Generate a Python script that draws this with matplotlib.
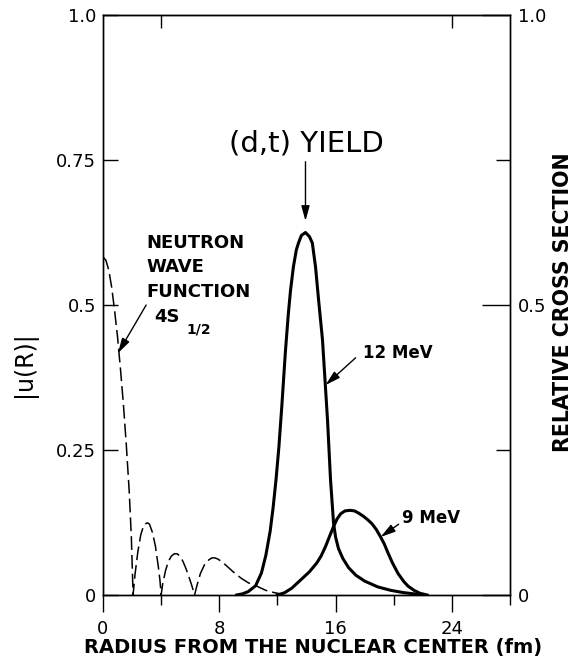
import numpy as np
import matplotlib
matplotlib.use("Agg")
import matplotlib.pyplot as plt
from matplotlib.ticker import FixedLocator, NullFormatter

# neutron wave function |u(R)| (dashed), radius in fm
wave_r = [0, 0.2, 0.4, 0.6, 0.8, 1.0, 1.2, 1.4, 1.6, 1.8, 1.95, 2.07,
          2.2, 2.4, 2.6, 2.8, 3.0, 3.1, 3.2, 3.4, 3.6, 3.8, 3.92, 4.0,
          4.1, 4.3, 4.5, 4.7, 4.9, 5.1, 5.3, 5.5, 5.7, 5.9, 6.1, 6.3,
          6.45, 6.7, 7.0, 7.3, 7.5, 7.7, 7.9, 8.2, 8.6, 9.0, 9.5, 10.0, 10.6, 11.2, 11.8, 12.4]
wave_u = [0.583, 0.577, 0.56, 0.53, 0.49, 0.445, 0.39, 0.33, 0.26, 0.18, 0.1, 0.0,
          0.035, 0.075, 0.104, 0.12, 0.124, 0.124, 0.122, 0.108, 0.085, 0.05, 0.025, 0.0,
          0.018, 0.042, 0.058, 0.067, 0.071, 0.071, 0.067, 0.058, 0.046, 0.032, 0.017, 0.0,
          0.015, 0.037, 0.053, 0.061, 0.064, 0.064, 0.062, 0.057, 0.048, 0.039, 0.029, 0.021, 0.015, 0.008, 0.004, 0.001]

# (d,t) yield at 12 MeV
r12 = [9.2, 9.6, 10.0, 10.5, 10.9, 11.2, 11.5, 11.7, 11.9, 12.1, 12.3, 12.55, 12.75,
       12.9, 13.1, 13.3, 13.45, 13.65, 13.93, 14.2, 14.4, 14.62, 14.83, 15.1, 15.3,
       15.45, 15.65, 15.86, 16.0, 16.2, 16.5, 16.9, 17.4, 18.0, 18.9, 19.8, 20.7, 21.4, 22.1]
y12 = [0.0, 0.002, 0.006, 0.016, 0.038, 0.068, 0.11, 0.15, 0.198, 0.255, 0.325, 0.42, 0.485,
       0.525, 0.566, 0.595, 0.607, 0.62, 0.625, 0.618, 0.607, 0.566, 0.509, 0.44, 0.36,
       0.30, 0.20, 0.124, 0.1, 0.08, 0.063, 0.047, 0.034, 0.024, 0.014, 0.008, 0.004, 0.002, 0.0]

# (d,t) yield at 9 MeV
r9 = [12.0, 12.5, 13.0, 13.6, 14.2, 14.7, 15.0, 15.3, 15.6, 15.86, 16.1, 16.35, 16.65,
      17.0, 17.3, 17.6, 17.9, 18.2, 18.5, 18.8, 19.1, 19.35, 19.6, 19.9, 20.3, 20.7,
      21.0, 21.4, 21.8, 22.3]
y9 = [0.0, 0.004, 0.012, 0.026, 0.04, 0.055, 0.067, 0.083, 0.102, 0.118, 0.131, 0.14, 0.145,
      0.146, 0.145, 0.141, 0.136, 0.13, 0.123, 0.113, 0.1, 0.088, 0.073, 0.056, 0.037, 0.023,
      0.015, 0.008, 0.003, 0.0]

xticks = [0, 8, 16, 24]
left_ticks = [0, 0.25, 0.5, 0.75, 1.0]
left_labels = ["0", "0.25", "0.5", "0.75", "1.0"]
right_ticks = [0, 0.5, 1.0]
right_labels = ["0", "0.5", "1.0"]

W, H = 575, 661
fig = plt.figure(figsize=(W / 100, H / 100), dpi=100)
ax = fig.add_axes([103 / W, 1 - 595 / H, (510 - 103) / W, (595 - 15) / H])
ax.set_xlim(0, 28)
ax.set_ylim(0, 1.0)
for s in ax.spines.values():
    s.set_linewidth(1.0)

ax.plot(wave_r, wave_u, color="k", lw=1.1, ls=(0, (9, 3.3)))
ax.plot(r12, y12, color="k", lw=2.2, solid_joinstyle="round")
ax.plot(r9, y9, color="k", lw=2.2, solid_joinstyle="round")

tfont = dict(family="DejaVu Sans", size=13)

# bottom axis
ax.set_xticks(xticks)
ax.set_xticklabels([str(t) for t in xticks], **tfont)
ax.xaxis.set_minor_locator(FixedLocator([4, 12, 20, 28]))
ax.tick_params(axis="x", which="major", direction="out", length=12, width=1, pad=6)
ax.tick_params(axis="x", which="minor", direction="out", length=7, width=1)

# left axis
ax.set_yticks(left_ticks)
ax.set_yticklabels(left_labels, **tfont)
ax.yaxis.set_minor_locator(FixedLocator([0.5]))
ax.yaxis.set_minor_formatter(NullFormatter())
ax.tick_params(axis="y", which="major", direction="in", length=11, width=1, pad=5)
ax.tick_params(axis="y", which="minor", direction="in", length=20, width=1)

# top ticks
top = ax.secondary_xaxis("top")
top.set_xticks([4, 24])
top.tick_params(direction="in", length=9, width=1, labeltop=False)

# right axis
ax2 = ax.twinx()
ax2.set_ylim(0, 1.0)
ax2.set_yticks(right_ticks)
ax2.set_yticklabels(right_labels, **tfont)
ax2.yaxis.set_minor_locator(FixedLocator([0.25, 0.75]))
ax2.yaxis.set_minor_formatter(NullFormatter())
ax2.tick_params(axis="y", which="major", direction="in", length=20, width=1, pad=6)
ax2.tick_params(axis="y", which="minor", direction="in", length=10, width=1)
for s in ax2.spines.values():
    s.set_linewidth(1.0)

# axis titles
fig.text(313 / W, 1 - 648 / H, "RADIUS FROM THE NUCLEAR CENTER (fm)",
         ha="center", va="center", fontsize=14, fontweight="bold")
fig.text(563 / W, 1 - 302 / H, "RELATIVE CROSS SECTION", rotation=90,
         ha="center", va="center", fontsize=14.8, fontweight="bold")
fig.text(25 / W, 1 - 364 / H, "|u(R)|", rotation=90,
         ha="center", va="center", fontsize=17)

arrow = dict(arrowstyle="-|>,head_length=0.9,head_width=0.25", color="k", lw=1.0,
             shrinkA=0, shrinkB=0)

# (d,t) yield label
ax.text(14.0, 0.779, "(d,t) YIELD", ha="center", va="center", fontsize=21)
ax.annotate("", xy=(13.93, 0.645), xytext=(13.93, 0.747), arrowprops=arrow)

# neutron wave function label
bold = dict(fontsize=13, fontweight="bold", va="center", ha="left")
ax.text(2.97, 0.607, "NEUTRON", **bold)
ax.text(2.97, 0.566, "WAVE", **bold)
ax.text(2.97, 0.522, "FUNCTION", **bold)
ax.text(3.55, 0.479, "4S", **bold)
ax.text(5.75, 0.458, "1/2", fontsize=10, fontweight="bold", va="center", ha="left")
ax.annotate("", xy=(1.03, 0.417), xytext=(2.97, 0.5), arrowprops=arrow)

# energy labels
small = dict(fontsize=12, fontweight="bold", va="center", ha="left")
ax.text(17.86, 0.417, "12 MeV", **small)
ax.annotate("", xy=(15.31, 0.362), xytext=(17.38, 0.409), arrowprops=arrow)
ax.text(20.6, 0.133, "9 MeV", **small)
ax.annotate("", xy=(19.1, 0.1), xytext=(20.34, 0.122), arrowprops=arrow)

fig.savefig("out.png", dpi=100, facecolor="white")
